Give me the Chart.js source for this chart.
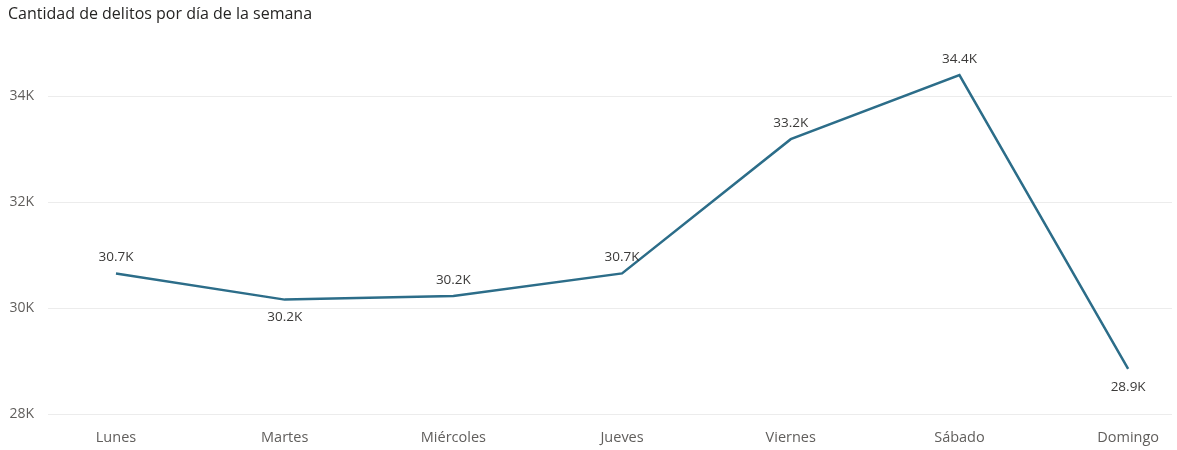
<!DOCTYPE html>
<html>
<head>
<meta charset="utf-8">
<script src="https://cdn.jsdelivr.net/npm/chart.js@4"></script>
<style>
  html, body { margin: 0; padding: 0; background: #fff; }
  #wrap { width: 1177px; height: 450px; }
</style>
</head>
<body>
<div id="wrap"><canvas id="chart"></canvas></div>
<script>
const dias = ['Lunes', 'Martes', 'Miércoles', 'Jueves', 'Viernes', 'Sábado', 'Domingo'];
const delitos = [30655, 30160, 30230, 30655, 33190, 34400, 28850];
const yTicks = [28000, 30000, 32000, 34000];

const fontFamily = '"Open Sans", "Noto Sans", sans-serif';

function formatK(v) {
    return (v / 1000).toFixed(1) + 'K';
}

// value labels: below the point when it is a local low, otherwise above
const valueLabels = {
    id: 'valueLabels',
    afterDatasetsDraw(chart) {
        const ctx = chart.ctx;
        const meta = chart.getDatasetMeta(0);
        ctx.save();
        ctx.font = '13.5px ' + fontFamily;
        ctx.fillStyle = '#3b3a39';
        ctx.textAlign = 'center';
        ctx.textBaseline = 'middle';
        meta.data.forEach((pt, i) => {
            const v = delitos[i];
            const prev = i > 0 ? delitos[i - 1] : Infinity;
            const next = i < delitos.length - 1 ? delitos[i + 1] : Infinity;
            const below = v < prev && v < next;
            const y = below ? pt.y + 18 : pt.y - 16;
            ctx.fillText(formatK(v), pt.x, y);
        });
        ctx.restore();
    }
};

const config = {
    type: 'line',
    data: {
        datasets: [{
            data: delitos.map((v, i) => ({ x: i, y: v })),
            borderColor: '#2c6d89',
            borderWidth: 2.5,
            pointRadius: 0,
            tension: 0
        }]
    },
    options: {
        responsive: true,
        maintainAspectRatio: false,
        animation: false,
        layout: {
            padding: { left: 8, right: 5, top: 0, bottom: 0 }
        },
        plugins: {
            legend: { display: false },
            tooltip: { enabled: false },
            title: {
                display: true,
                text: 'Cantidad de delitos por día de la semana',
                align: 'start',
                color: '#252423',
                font: { family: fontFamily, size: 16, weight: 'normal' },
                padding: { top: 5, bottom: 35 }
            }
        },
        scales: {
            x: {
                type: 'linear',
                min: -0.403,
                max: 6.26,
                border: { display: false },
                grid: { display: false, drawTicks: false },
                afterBuildTicks(scale) {
                    scale.ticks = dias.map((d, i) => ({ value: i }));
                },
                afterFit(scale) { scale.height = 36; },
                ticks: {
                    padding: 15,
                    color: '#605e5c',
                    font: { family: fontFamily, size: 14.5 },
                    callback: (v) => dias[v] ?? ''
                }
            },
            y: {
                min: 28000,
                max: 34700,
                border: { display: false },
                grid: { color: '#ececec', lineWidth: 1, drawTicks: false },
                afterBuildTicks(scale) {
                    scale.ticks = yTicks.map(v => ({ value: v }));
                },
                afterFit(scale) { scale.width = 40; },
                ticks: {
                    padding: 14,
                    color: '#605e5c',
                    font: { family: fontFamily, size: 14 },
                    callback: (v) => (v / 1000) + 'K'
                }
            }
        }
    },
    plugins: [valueLabels]
};

const chart = new Chart(document.getElementById('chart'), config);
</script>
</body>
</html>
